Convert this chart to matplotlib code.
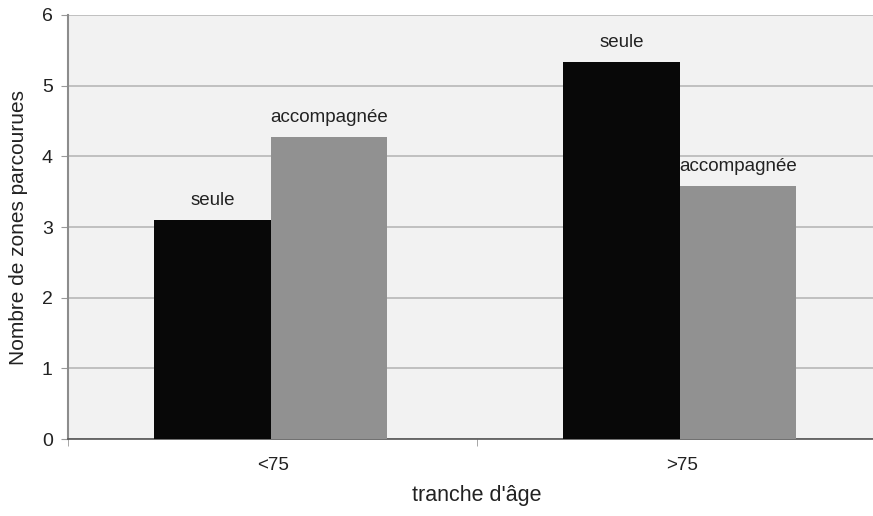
import matplotlib

matplotlib.use("Agg")
import matplotlib.pyplot as plt
import numpy as np

plt.rcParams["font.family"] = ["Liberation Sans", "DejaVu Sans"]

categories = ["<75", ">75"]
seule = [3.10, 5.33]
accompagnee = [4.27, 3.58]
series_labels = ["seule", "accompagnée"]
y_ticks = [0, 1, 2, 3, 4, 5, 6]


def main():
    fig = plt.figure(figsize=(8.73, 5.16), dpi=100)
    ax = fig.add_axes([0.078, 0.149, 0.937, 0.822])
    ax.set_facecolor("#F2F2F2")

    x = np.arange(len(categories)) - 0.005
    width = 0.285
    ax.bar(x - width / 2, seule, width, color="#080808", zorder=3)
    ax.bar(x + width / 2, accompagnee, width, color="#919191", zorder=3)

    for i in range(len(categories)):
        ax.text(x[i] - width / 2, seule[i] + 0.16, series_labels[0],
                ha="center", va="bottom", fontsize=13.5, color="#222222")
        ax.text(x[i] + width / 2, accompagnee[i] + 0.16, series_labels[1],
                ha="center", va="bottom", fontsize=13.5, color="#222222")

    ax.set_xlim(-0.5, 1.5)
    ax.set_ylim(0, 6)
    ax.set_yticks(y_ticks)
    ax.set_yticklabels([str(t) for t in y_ticks], fontsize=14, color="#222222")
    ax.yaxis.grid(True, color="#B8B8B8", linewidth=1.2, zorder=0)
    ax.set_axisbelow(True)

    ax.set_xticks(np.arange(len(categories)))
    ax.set_xticklabels(categories, fontsize=13.5, color="#222222")
    ax.tick_params(axis="x", which="major", length=0, pad=13)
    ax.set_xticks([-0.5, 0.5, 1.5], minor=True)
    ax.tick_params(axis="x", which="minor", length=5, color="#999999")
    ax.tick_params(axis="y", length=5, color="#999999", pad=6)

    for side in ("top", "right"):
        ax.spines[side].set_visible(False)
    ax.spines["left"].set_color("#8C8C8C")
    ax.spines["left"].set_linewidth(1.5)
    ax.spines["bottom"].set_color("#555555")
    ax.spines["bottom"].set_linewidth(1.2)

    ax.set_ylabel("Nombre de zones parcourues", fontsize=15, color="#222222", labelpad=10)
    ax.set_xlabel("tranche d'âge", fontsize=15.5, color="#222222", labelpad=8)

    fig.savefig("out.png", dpi=100)
    plt.close(fig)


if __name__ == "__main__":
    main()
